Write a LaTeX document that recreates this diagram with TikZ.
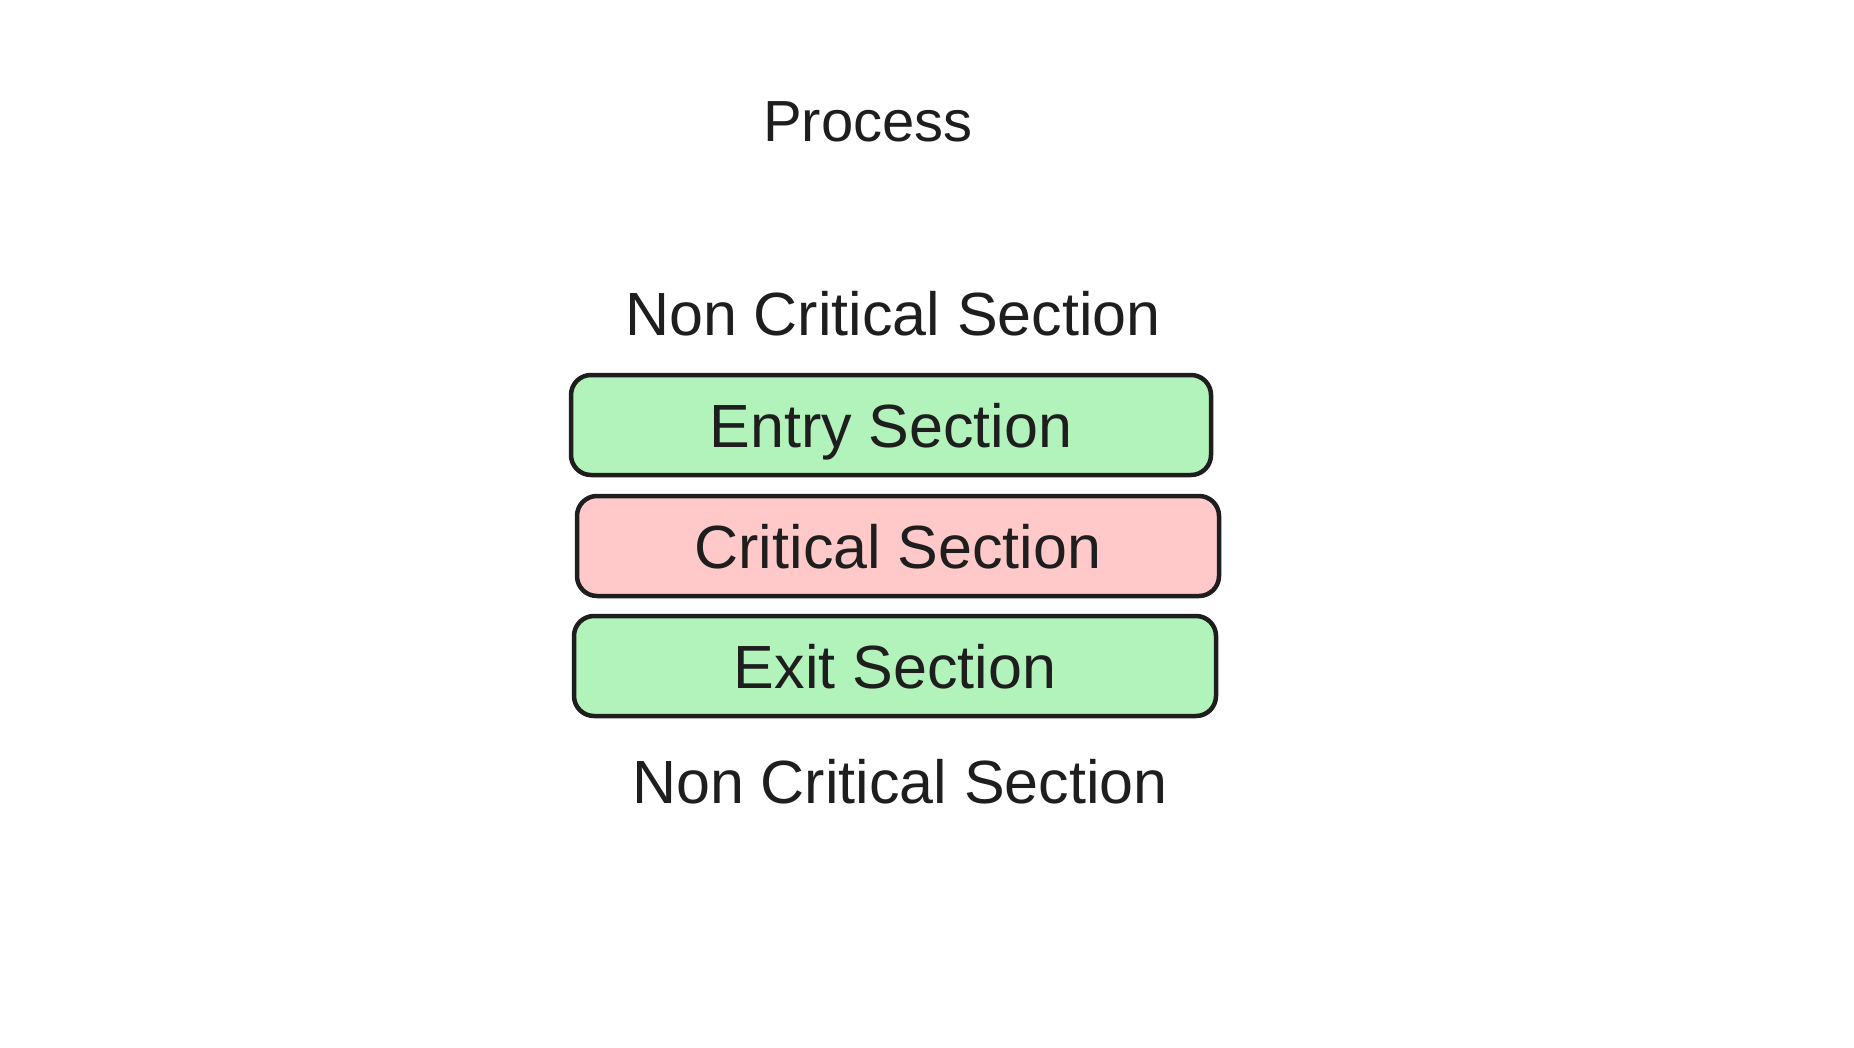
\documentclass[tikz,border=0pt]{standalone}
\usepackage{fontspec}
\setmainfont{Liberation Sans}
\definecolor{ink}{HTML}{1E1E1E}
\definecolor{greenfill}{HTML}{B2F2BB}
\definecolor{redfill}{HTML}{FFC9C9}
\begin{document}
\begin{tikzpicture}[x=1pt,y=-1pt,
  label/.style={text=ink,font=\fontsize{61}{70}\selectfont,inner sep=0pt,anchor=base},
  sectionbox/.style={draw=ink,line width=4.5pt,rounded corners=20pt,
    minimum width=640pt,minimum height=100pt,inner sep=0pt,
    text=ink,font=\fontsize{61}{70}\selectfont,text height=44pt,text depth=0pt}]
\useasboundingbox[fill=white] (0,0) rectangle (1854,1048);
\node[label,font=\fontsize{58}{66}\selectfont] (proc) at (868,142) {Process};
\node[label] (nc1) at (893,336) {Non Critical Section};
\node[sectionbox,fill=greenfill] (entry) at (891,425) {Entry Section};
\node[sectionbox,fill=redfill,minimum width=642pt] (crit) at (898,546) {Critical Section};
\node[sectionbox,fill=greenfill,minimum width=642pt] (exit) at (895,666) {Exit Section};
\node[label] (nc2) at (900,803) {Non Critical Section};
\end{tikzpicture}
\end{document}
